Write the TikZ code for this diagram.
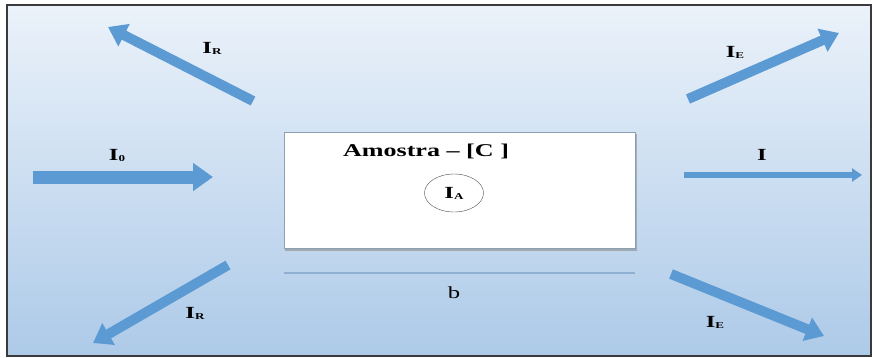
\documentclass[tikz,border=0pt]{standalone}
\usepackage{fontspec}
\setmainfont{Liberation Serif}
\newfontfamily\widefont[FakeStretch=1.45]{Liberation Serif}
\usetikzlibrary{arrows.meta,shapes.geometric}
\definecolor{bgtop}{HTML}{EBF2FA}
\definecolor{bgbot}{HTML}{ADCAE8}
\definecolor{arr}{HTML}{5B9AD3}
\definecolor{framec}{HTML}{3A3A3A}
\definecolor{boxedge}{HTML}{8CA0B4}
\definecolor{bline}{HTML}{8FB0D0}
\tikzset{
  bigarrow/.style={draw=arr, line width=13pt, -{Triangle[length=20pt 0 0, width=27pt 0 0]}},
  diagarrow/.style={draw=arr, line width=10pt, -{Triangle[length=18pt 0 0, width=24pt 0 0]}},
  thinarrow/.style={draw=arr, line width=6pt, -{Triangle[length=10pt 0 0, width=13pt 0 0]}},
  lbl/.style={font=\widefont\bfseries\fontsize{17}{17}\selectfont, inner sep=0pt},
}
\newcommand\Isub[1]{I\raisebox{-1pt}{\fontsize{9}{9}\selectfont #1}}
\begin{document}
\begin{tikzpicture}[x=1pt,y=-1pt]
\useasboundingbox (0,0) rectangle (873,357);
\fill[white] (0,0) rectangle (873,357);
\shade[top color=bgtop, bottom color=bgbot] (7,5) rectangle (871,356);
\draw[framec, line width=1.5pt] (7,5) rectangle (871,356);
% sample box
\fill[black!45, opacity=0.6] (285,134) rectangle (637,251);
\node[draw=boxedge, fill=white, minimum width=351pt, minimum height=116pt, anchor=north west, inner sep=0pt] (box) at (284,132) {};
\node[font=\widefont\bfseries\fontsize{18}{18}\selectfont] (amostra) at (426,151) {Amostra – [C ]};
\node[draw=black!70, ellipse, minimum width=59pt, minimum height=38pt, lbl] (ia) at (454,193) {\Isub{A}};
% b line
\coordinate (bl) at (284,273);
\coordinate (br) at (635,273);
\draw[bline, line width=1.5pt] (bl) -- (br);
\node[font=\widefont\fontsize{17}{17}\selectfont] (b) at (454,293) {b};
% arrows
\coordinate (i0s) at (33,177); \coordinate (i0e) at (213,177);
\draw[bigarrow] (i0s) -- (i0e);
\node[lbl] (i0) at (117,155) {\Isub{0}};
\coordinate (is) at (684,175); \coordinate (ie) at (862,175);
\draw[thinarrow] (is) -- (ie);
\node[lbl] (i) at (762,155) {I};
\coordinate (uls) at (253,101); \coordinate (ule) at (108,27);
\draw[diagarrow] (uls) -- (ule);
\node[lbl] (ulr) at (212,48) {\Isub{R}};
\coordinate (urs) at (688,99); \coordinate (ure) at (839,33);
\draw[diagarrow] (urs) -- (ure);
\node[lbl] (ure2) at (735,52) {\Isub{E}};
\coordinate (lls) at (228,265); \coordinate (lle) at (93,343);
\draw[diagarrow] (lls) -- (lle);
\node[lbl] (llr) at (195,313) {\Isub{R}};
\coordinate (lrs) at (671,274); \coordinate (lre) at (824,336);
\draw[diagarrow] (lrs) -- (lre);
\node[lbl] (lre2) at (715,322) {\Isub{E}};
\end{tikzpicture}
\end{document}
